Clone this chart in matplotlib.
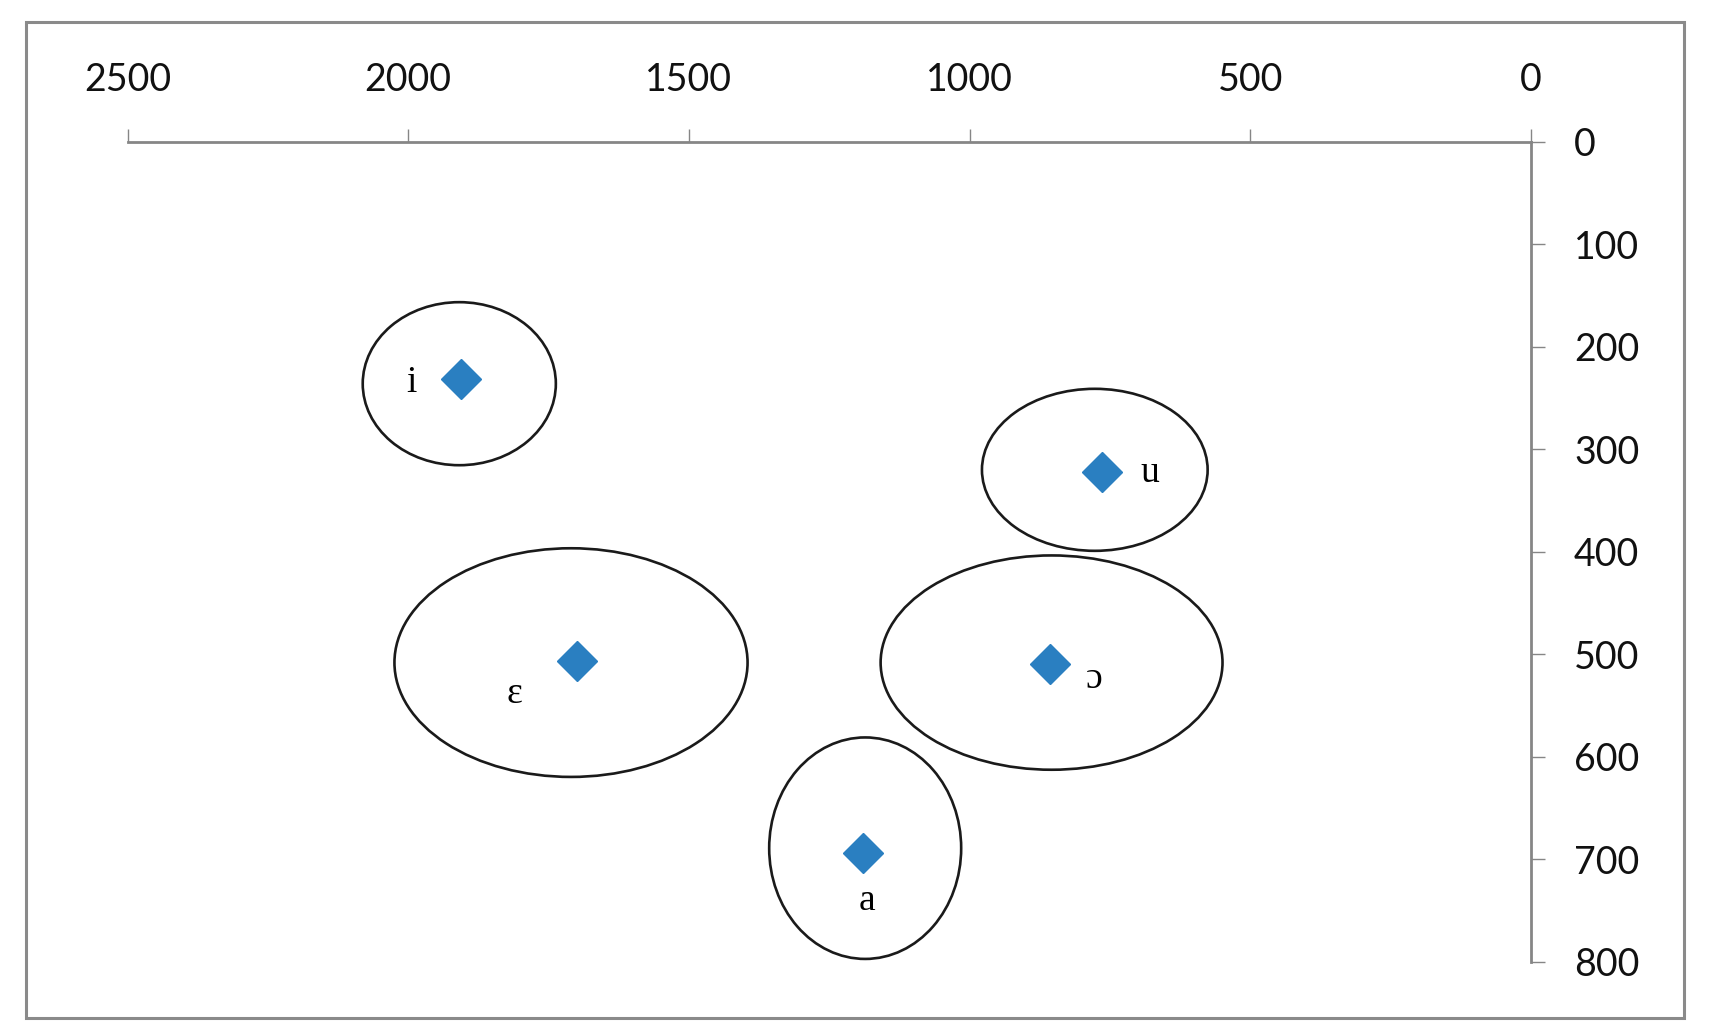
import matplotlib
matplotlib.use('Agg')
import matplotlib.pyplot as plt
from matplotlib.patches import Ellipse, Rectangle

# vowel formants (F2 on x, F1 on y)
vowels = ['i', 'u', 'ɛ', 'ɔ', 'a']
f2 = [1906, 765, 1700, 856, 1190]
f1 = [231, 322, 506, 509, 694]

# label positions
label_x = [1995, 679, 1811, 778, 1182]
label_y = [235, 323, 538, 524, 740]

# ellipses round each vowel: centre, width, height in data units
ell_x = [1909, 777, 1710, 854, 1186]
ell_y = [236, 320, 508, 508, 689]
ell_w = [344, 402, 629, 609, 342]
ell_h = [159, 158, 223, 209, 216]

xticks = [2500, 2000, 1500, 1000, 500, 0]
yticks = [0, 100, 200, 300, 400, 500, 600, 700, 800]

fig = plt.figure(figsize=(17.09, 10.36), dpi=100)
ax = fig.add_axes([127.5 / 1709, 1 - 962 / 1036, (1531 - 127.5) / 1709, (962 - 141.7) / 1036])

ax.set_xlim(2500, 0)
ax.set_ylim(800, 0)
ax.xaxis.tick_top()
ax.yaxis.tick_right()
ax.set_xticks(xticks)
ax.set_yticks(yticks)

for s in ['left', 'bottom']:
    ax.spines[s].set_visible(False)
for s in ['top', 'right']:
    ax.spines[s].set_color('#868686')
    ax.spines[s].set_linewidth(2)

ax.tick_params(axis='x', direction='out', length=9.5, width=1, color='#868686', pad=22,
               labelsize=27)
ax.tick_params(axis='y', direction='out', length=10, width=1, color='#868686', pad=21,
               labelsize=27)
for lab in ax.get_xticklabels() + ax.get_yticklabels():
    lab.set_fontfamily('Lato')
    lab.set_color('#111111')

for i in range(len(vowels)):
    e = Ellipse((ell_x[i], ell_y[i]), ell_w[i], ell_h[i], fill=False,
                edgecolor='#1a1a1a', linewidth=1.9)
    ax.add_patch(e)

ax.plot(f2, f1, linestyle='none', marker='D', markersize=20, color='#2A7FC1')

for i in range(len(vowels)):
    ax.text(label_x[i], label_y[i], vowels[i], fontsize=27, family='Liberation Serif',
            ha='center', va='center', color='black')

# gray frame round the chart area
fig.patches.append(Rectangle((26 / 1709, 1 - 1018 / 1036), (1684 - 26) / 1709, (1018 - 22) / 1036,
                             transform=fig.transFigure, fill=False, edgecolor='#8a8a8a',
                             linewidth=2.2))

fig.savefig('out.png', dpi=100)
